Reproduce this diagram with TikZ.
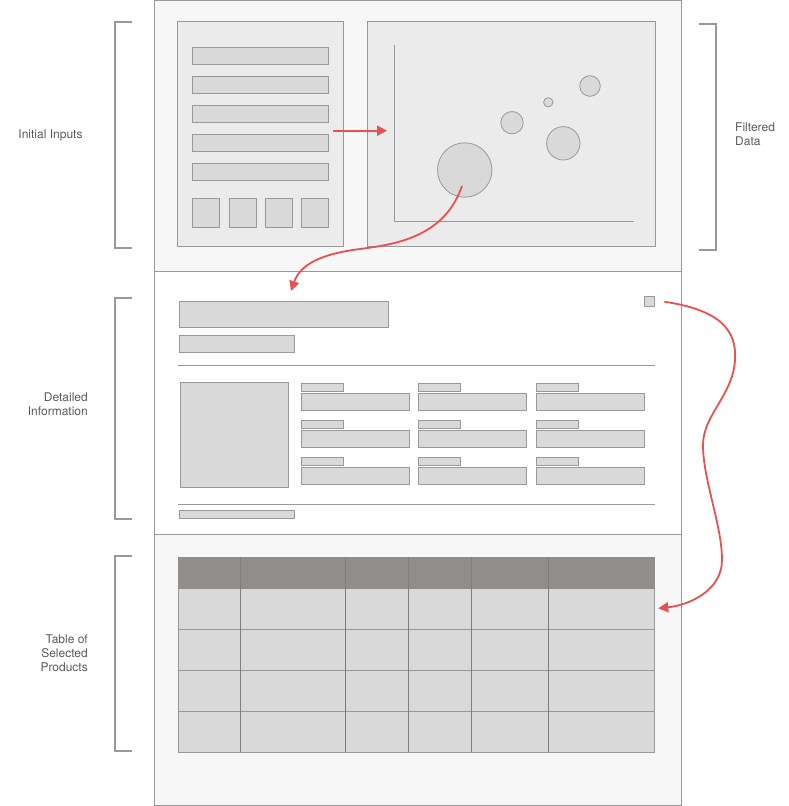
\documentclass[tikz,border=0pt]{standalone}
\usepackage{fontspec}
\setmainfont{TeX Gyre Heros}
\usetikzlibrary{arrows.meta}

\definecolor{frame}{HTML}{999999}
\definecolor{pagebg}{HTML}{F7F7F7}
\definecolor{panel}{HTML}{EBEBEB}
\definecolor{widget}{HTML}{D9D9D9}
\definecolor{header}{HTML}{8F8E8C}
\definecolor{gridline}{HTML}{7E7E7E}
\definecolor{flow}{HTML}{E8514F}
\definecolor{caption}{HTML}{5A5A5A}

% \uibox{name}{style}{x1}{y1}{x2}{y2}: a box given by its top-left and bottom-right corners
\newcommand\uibox[6]{%
  \node[#2, anchor=north west, minimum width={((#5)-(#3))*1pt}, minimum height={((#6)-(#4))*1pt}] (#1) at (#3,#4) {};}

\begin{document}
\begin{tikzpicture}[x=1pt, y=-1pt,
  panelbox/.style={draw=frame, fill=panel, line width=1pt, inner sep=0pt, outer sep=0pt},
  widgetbox/.style={draw=frame, fill=widget, line width=1pt, inner sep=0pt, outer sep=0pt},
  bubble/.style={circle, draw=frame, fill=widget, line width=0.8pt, inner sep=0pt, outer sep=0pt},
  flowarrow/.style={draw=flow, line width=1.8pt, -{Triangle[length=10pt, width=10pt]}},
  bracket/.style={draw=frame, line width=2pt},
  caption/.style={text=caption, font=\fontsize{12}{14}\selectfont, inner sep=0pt}
]
\useasboundingbox (0,0) rectangle (789,806);

% page sections
\fill[pagebg] (154.5,0.5) rectangle (681.5,271.5);
\fill[white] (154.5,271.5) rectangle (681.5,534.5);
\fill[pagebg] (154.5,534.5) rectangle (681.5,805.5);
\draw[frame, line width=1pt] (154.5,0.5) rectangle (681.5,805.5);
\draw[frame, line width=1pt] (154.5,271.5) -- (681.5,271.5);
\draw[frame, line width=1pt] (154.5,534.5) -- (681.5,534.5);

% ---------- inputs panel ----------
\uibox{inputs}{panelbox}{177.3}{21.3}{343.3}{246.3}
\uibox{field1}{widgetbox}{192.3}{47.7}{328.7}{64.3}
\uibox{field2}{widgetbox}{192.3}{76.3}{328.7}{93.3}
\uibox{field3}{widgetbox}{192.3}{105.3}{328.7}{122.3}
\uibox{field4}{widgetbox}{192.3}{134.3}{328.7}{151.3}
\uibox{field5}{widgetbox}{192.3}{163.3}{328.7}{180.3}
\uibox{button1}{widgetbox}{192.3}{198.3}{219.7}{227.3}
\uibox{button2}{widgetbox}{229.3}{198.3}{256.7}{227.3}
\uibox{button3}{widgetbox}{265.3}{198.3}{292.7}{227.3}
\uibox{button4}{widgetbox}{301.3}{198.3}{328.7}{227.3}

% ---------- scatter panel ----------
\uibox{scatter}{panelbox}{367.3}{21.3}{655.7}{246.3}
\draw[frame, line width=1pt] (394.3,45) -- (394.3,221.3) -- (634.3,221.3);
\node[bubble, minimum size=54.4pt] (bigdot) at (464.7,170) {};
\node[bubble, minimum size=22.4pt] (dotA) at (512,122.7) {};
\node[bubble, minimum size=33.4pt] (dotB) at (563.3,143.3) {};
\node[bubble, minimum size=9.4pt] (dotC) at (548.3,102.3) {};
\node[bubble, minimum size=20.6pt] (dotD) at (590,86) {};

% ---------- detail section ----------
\uibox{title}{widgetbox}{179.3}{301.3}{388.7}{327.3}
\uibox{subtitle}{widgetbox}{179.3}{335.3}{294.7}{352.3}
\uibox{toggle}{widgetbox}{644.3}{296.3}{654.7}{306.3}
\draw[frame, line width=1pt] (178,365.3) -- (655,365.3);
\draw[frame, line width=1pt] (178,504.3) -- (655,504.3);
\uibox{footer}{widgetbox}{179.3}{510}{294.7}{518.3}
\uibox{photo}{widgetbox}{180.3}{382.3}{288.7}{487.3}

\foreach \c/\xl/\xr/\xf in {1/301.3/343.7/409.7, 2/418.3/460.7/526.7, 3/536.3/578.7/644.7}{
  \foreach \r/\ly in {1/383.3, 2/420.3, 3/457.3}{
    \uibox{lab\c\r}{widgetbox}{\xl}{\ly}{\xr}{\ly+8}
    \uibox{val\c\r}{widgetbox}{\xl}{\ly+10}{\xf}{\ly+27}
  }
}

% ---------- product table ----------
\fill[widget] (178.3,557) rectangle (654.7,752.3);
\fill[header] (178.3,557) rectangle (654.7,588.7);
\foreach \y in {629.3, 670.3, 711.7}
  \draw[frame, line width=1pt] (178.3,\y) -- (654.7,\y);
\foreach \x in {240.3, 345.7, 408.3, 471.3, 548.3}
  \draw[gridline, line width=1pt] (\x,557) -- (\x,752.3);
\draw[frame, line width=1pt] (178.3,588.7) -- (178.3,752.3) -- (654.7,752.3) -- (654.7,588.7);

% ---------- flow connectors ----------
\coordinate (inOut) at (333,130.7);
\coordinate (scIn) at (387,130.7);
\draw[flowarrow] (inOut) -- (scIn);

\coordinate (dotOut) at (462,186);
\coordinate (detIn) at (291,291);
\draw[flowarrow] (dotOut) .. controls (445,235) and (400,244) .. (360,249)
  .. controls (320,254) and (300,265) .. (detIn);

\coordinate (toggleOut) at (664.3,301.7);
\coordinate (tableIn) at (658.3,608.3);
\draw[flowarrow] (toggleOut) .. controls (720,310) and (737,330) .. (735,360)
  .. controls (733,395) and (703,415) .. (703,445)
  .. controls (703,480) and (722,525) .. (722,560)
  .. controls (722,590) and (690,605) .. (tableIn);

% ---------- section brackets and captions ----------
\draw[bracket] (131.7,21.7) -- (114.7,21.7) -- (114.7,248) -- (131.7,248);
\draw[bracket] (131.7,298) -- (114.7,298) -- (114.7,519) -- (131.7,519);
\draw[bracket] (131.7,556) -- (114.7,556) -- (114.7,751) -- (131.7,751);
\draw[bracket] (699.3,23.7) -- (716,23.7) -- (716,250) -- (699.3,250);

\node[caption, anchor=center] (capInputs) at (50.5,135) {Initial Inputs};
\node[caption, anchor=west, align=left] (capFiltered) at (735,134) {Filtered\\Data};
\node[caption, anchor=east, align=right] (capDetail) at (88,404) {Detailed\\Information};
\node[caption, anchor=east, align=right] (capTable) at (88,653) {Table of\\Selected\\Products};
\end{tikzpicture}
\end{document}
